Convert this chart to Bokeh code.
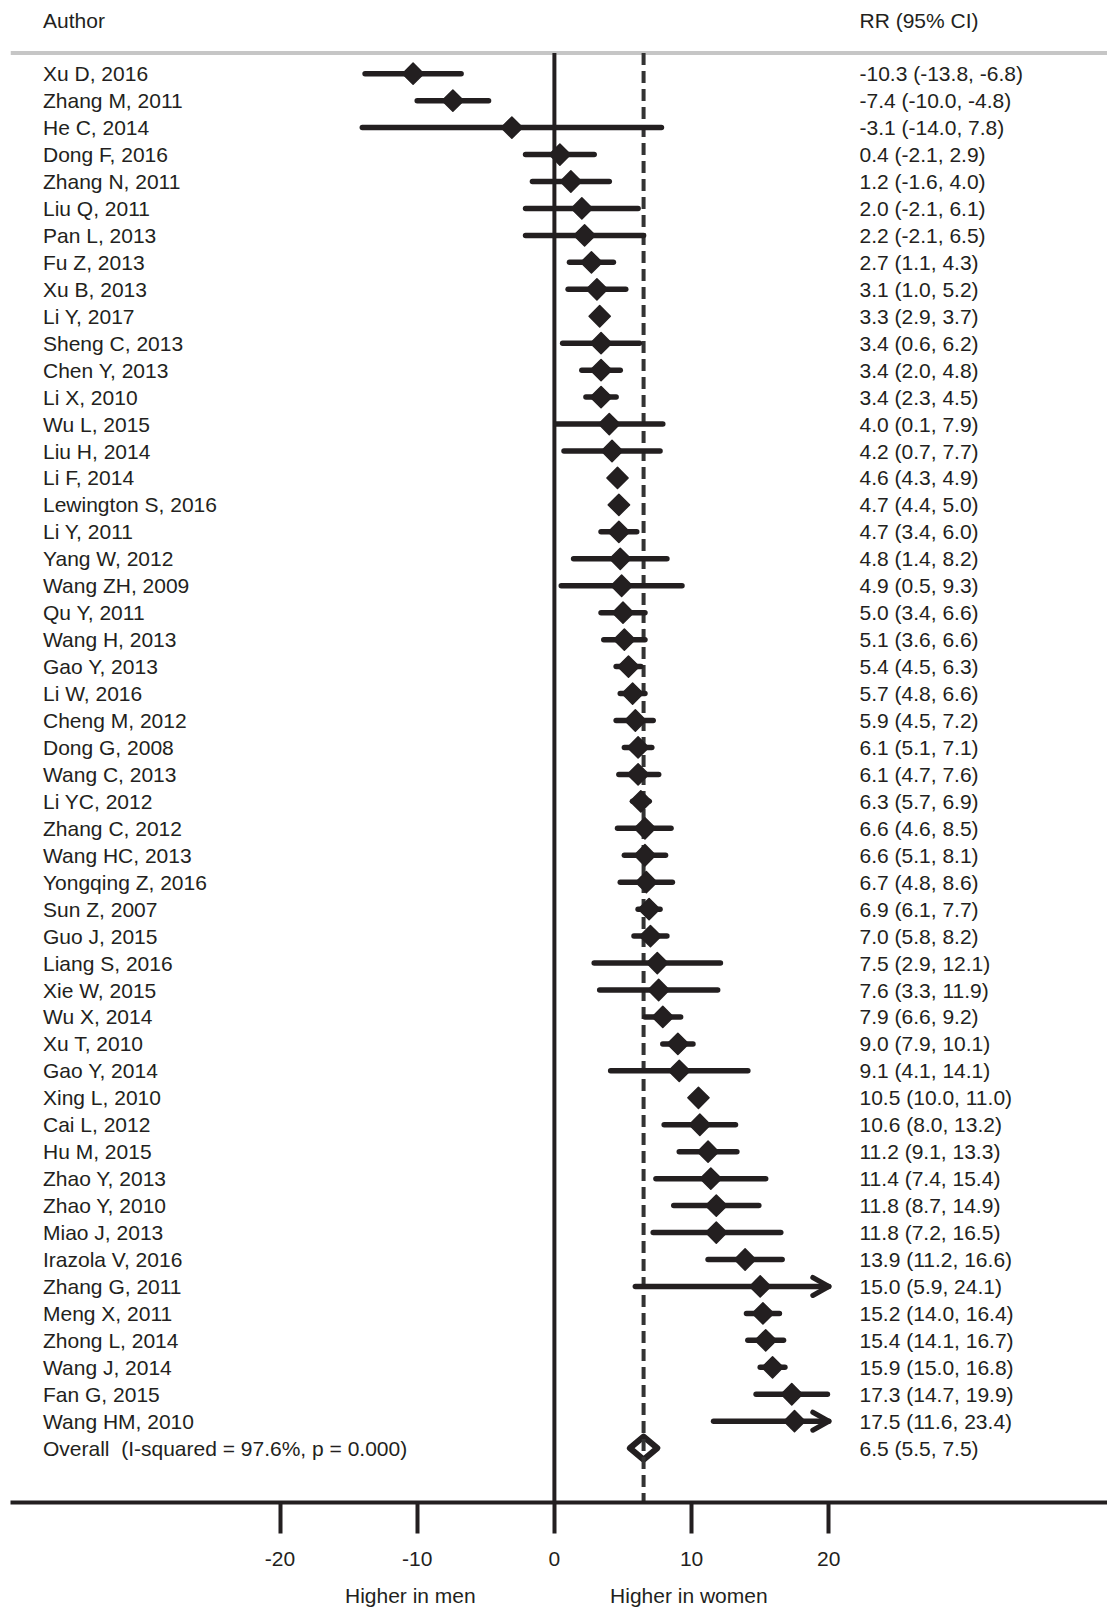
from bokeh.plotting import figure
from bokeh.models import Range1d, LinearAxis, FixedTicker, ColumnDataSource
from bokeh.core.properties import value
from bokeh.embed import file_html
from bokeh.resources import INLINE

# ---------------- data ----------------
authors = ["Xu D, 2016", "Zhang M, 2011", "He C, 2014", "Dong F, 2016", "Zhang N, 2011",
           "Liu Q, 2011", "Pan L, 2013", "Fu Z, 2013", "Xu B, 2013", "Li Y, 2017",
           "Sheng C, 2013", "Chen Y, 2013", "Li X, 2010", "Wu L, 2015", "Liu H, 2014",
           "Li F, 2014", "Lewington S, 2016", "Li Y, 2011", "Yang W, 2012", "Wang ZH, 2009",
           "Qu Y, 2011", "Wang H, 2013", "Gao Y, 2013", "Li W, 2016", "Cheng M, 2012",
           "Dong G, 2008", "Wang C, 2013", "Li YC, 2012", "Zhang C, 2012", "Wang HC, 2013",
           "Yongqing Z, 2016", "Sun Z, 2007", "Guo J, 2015", "Liang S, 2016", "Xie W, 2015",
           "Wu X, 2014", "Xu T, 2010", "Gao Y, 2014", "Xing L, 2010", "Cai L, 2012",
           "Hu M, 2015", "Zhao Y, 2013", "Zhao Y, 2010", "Miao J, 2013", "Irazola V, 2016",
           "Zhang G, 2011", "Meng X, 2011", "Zhong L, 2014", "Wang J, 2014", "Fan G, 2015",
           "Wang HM, 2010"]
rr = [-10.3, -7.4, -3.1, 0.4, 1.2, 2.0, 2.2, 2.7, 3.1, 3.3,
      3.4, 3.4, 3.4, 4.0, 4.2, 4.6, 4.7, 4.7, 4.8, 4.9,
      5.0, 5.1, 5.4, 5.7, 5.9, 6.1, 6.1, 6.3, 6.6, 6.6,
      6.7, 6.9, 7.0, 7.5, 7.6, 7.9, 9.0, 9.1, 10.5, 10.6,
      11.2, 11.4, 11.8, 11.8, 13.9, 15.0, 15.2, 15.4, 15.9, 17.3,
      17.5]
lo = [-13.8, -10.0, -14.0, -2.1, -1.6, -2.1, -2.1, 1.1, 1.0, 2.9,
      0.6, 2.0, 2.3, 0.1, 0.7, 4.3, 4.4, 3.4, 1.4, 0.5,
      3.4, 3.6, 4.5, 4.8, 4.5, 5.1, 4.7, 5.7, 4.6, 5.1,
      4.8, 6.1, 5.8, 2.9, 3.3, 6.6, 7.9, 4.1, 10.0, 8.0,
      9.1, 7.4, 8.7, 7.2, 11.2, 5.9, 14.0, 14.1, 15.0, 14.7,
      11.6]
hi = [-6.8, -4.8, 7.8, 2.9, 4.0, 6.1, 6.5, 4.3, 5.2, 3.7,
      6.2, 4.8, 4.5, 7.9, 7.7, 4.9, 5.0, 6.0, 8.2, 9.3,
      6.6, 6.6, 6.3, 6.6, 7.2, 7.1, 7.6, 6.9, 8.5, 8.1,
      8.6, 7.7, 8.2, 12.1, 11.9, 9.2, 10.1, 14.1, 11.0, 13.2,
      13.3, 15.4, 14.9, 16.5, 16.6, 24.1, 16.4, 16.7, 16.8, 19.9,
      23.4]
overall_label = "Overall\u00a0 (I-squared = 97.6%, p = 0.000)"
overall_rr, overall_lo, overall_hi = 6.5, 5.5, 7.5
axis_ticks = [-20, -10, 0, 10, 20]
tick_labels = ["-20", "-10", "0", "10", "20"]
side_labels = ["Higher in men", "Higher in women"]
side_label_pos = [-10.5, 9.8]
header_left = "Author"
header_right = "RR (95% CI)"
axis_max = 20

# ---------------- layout constants (pixels) ----------------
W, H = 1107, 1609
LEFT = 10
BOTTOM_PAD = 107
FRAME_H = H - BOTTOM_PAD
ZERO_PX = 553.9
PX_PER_UNIT = 13.72
ROW0_PX = 73.2
ROW_PX = 26.95

def px2x(px):
    return (px - ZERO_PX) / PX_PER_UNIT

def px2row(py):
    return (py - ROW0_PX) / ROW_PX

INK = "#231f20"
FONT = "Liberation Sans"
FS = "21px"

p = figure(width=W, height=H, output_backend="svg", toolbar_location=None,
           x_axis_location=None, y_axis_location=None,
           x_range=Range1d(px2x(LEFT), px2x(W)),
           y_range=Range1d(px2row(FRAME_H), px2row(0)),
           min_border_left=LEFT, min_border_right=0, min_border_top=0,
           min_border_bottom=BOTTOM_PAD)
p.outline_line_color = None
p.xgrid.visible = False
p.ygrid.visible = False
p.background_fill_color = "white"
p.border_fill_color = "white"

n = len(authors)
rows = list(range(n))
overall_row = n
top_row = px2row(52.5)
bottom_row = px2row(FRAME_H)

# header separator
p.segment(x0=[px2x(LEFT)], y0=[top_row], x1=[px2x(W)], y1=[top_row],
          line_color="#c6c6c6", line_width=4)

# zero line
p.segment(x0=[0], y0=[top_row], x1=[0], y1=[bottom_row], line_color=INK, line_width=4)

# overall diamond (below dashed line)
h = 11.5 / ROW_PX
p.patch(x=[overall_lo, overall_rr, overall_hi, overall_rr],
        y=[overall_row, overall_row - h, overall_row, overall_row + h],
        fill_color="white", line_color=INK, line_width=6, line_join="round")

# dashed overall line
p.segment(x0=[overall_rr], y0=[top_row], x1=[overall_rr], y1=[bottom_row],
          line_color="#333333", line_width=4, line_dash="12 6")

# CI lines
hi_clip = [min(v, axis_max) for v in hi]
src = ColumnDataSource(dict(y=rows, rr=rr, lo=lo, hi=hi_clip))
p.segment(x0="lo", y0="y", x1="hi", y1="y", source=src, line_color=INK,
          line_width=5.5, line_cap="round")

# arrows for truncated CIs
ah_len = 16 / PX_PER_UNIT
ah_h = 9 / ROW_PX
axs, ays = [], []
for i in range(n):
    if hi[i] > axis_max:
        axs.append([axis_max - ah_len, axis_max, axis_max - ah_len])
        ays.append([i - ah_h, i, i + ah_h])
p.multi_line(xs=axs, ys=ays, line_color=INK, line_width=5, line_cap="round",
             line_join="round")

# point estimates
p.scatter(x="rr", y="y", source=src, marker="square", angle=0.785398,
          size=15, fill_color=INK, line_color=INK, line_width=1.5, line_join="round")

# texts
left_x = px2x(42.5)
right_x = px2x(859)
labels_left = authors + [overall_label]
labels_right = [f"{a:.1f} ({b:.1f}, {c:.1f})" for a, b, c in zip(rr, lo, hi)] + \
    [f"{overall_rr:.1f} ({overall_lo:.1f}, {overall_hi:.1f})"]
ys_txt = list(range(n + 1))
p.text(x=[left_x] * (n + 1), y=ys_txt, text=labels_left, text_font=value(FONT),
       text_font_size=value(FS), text_color=INK, text_baseline="middle", text_align="left")
p.text(x=[right_x] * (n + 1), y=ys_txt, text=labels_right, text_font=value(FONT),
       text_font_size=value(FS), text_color=INK, text_baseline="middle", text_align="left")
hy = px2row(20)
p.text(x=[left_x, right_x], y=[hy, hy], text=[header_left, header_right],
       text_font=value(FONT), text_font_size=value(FS), text_color=INK,
       text_baseline="middle", text_align="left")

# x axis
ax = LinearAxis(ticker=FixedTicker(ticks=axis_ticks),
                major_label_overrides={t: l for t, l in zip(axis_ticks, tick_labels)},
                axis_line_color=INK, axis_line_width=4,
                major_tick_line_color=INK, major_tick_line_width=4,
                major_tick_out=31, major_tick_in=0,
                minor_tick_line_color=None,
                major_label_standoff=18,
                major_label_text_font=FONT, major_label_text_font_size=FS,
                major_label_text_color=INK, major_label_text_line_height=0.9)
p.add_layout(ax, "below")

ax2 = LinearAxis(ticker=FixedTicker(ticks=side_label_pos),
                 major_label_overrides={t: l for t, l in zip(side_label_pos, side_labels)},
                 axis_line_color=None, major_tick_line_color=None,
                 minor_tick_line_color=None, major_tick_out=0, major_tick_in=0,
                 major_label_standoff=15,
                 major_label_text_font=FONT, major_label_text_font_size=FS,
                 major_label_text_color=INK, major_label_text_line_height=0.9)
p.add_layout(ax2, "below")

open("out.html", "w").write(file_html(p, INLINE))
